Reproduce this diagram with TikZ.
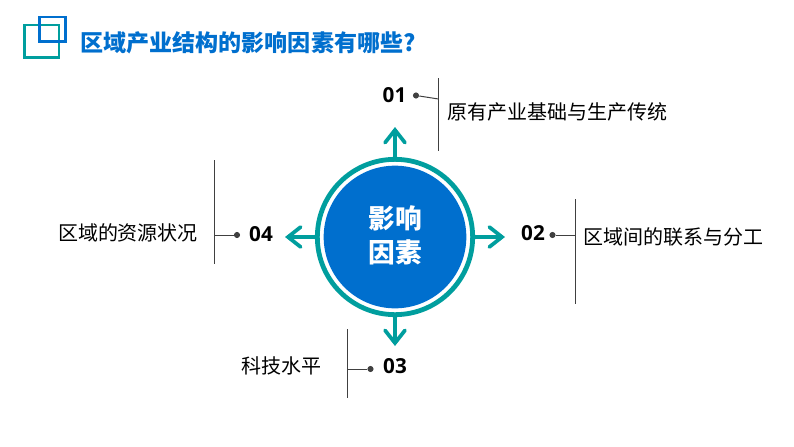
\documentclass[tikz,border=0pt]{standalone}
\usepackage{fontspec}
\usepackage{xcolor}
\usepackage{tikz}
\usetikzlibrary{arrows.meta}
\setmainfont{Noto Sans CJK SC}
\newfontfamily\numfont{Open Sans}
\definecolor{hubteal}{HTML}{009E9E}
\definecolor{hubblue}{HTML}{006FCE}
\definecolor{barline}{HTML}{404040}
\tikzset{
  spoke/.style={draw=hubteal, line width=2.8pt, -{Straight Barb[length=9.5pt,width=15pt,line width=2.8pt,line cap=round,line join=miter]}},
  barstyle/.style={draw=barline, line width=0.75pt},
  dotnode/.style={circle, fill=barline, inner sep=0pt, minimum size=4.6pt},
  numnode/.style={font=\numfont\bfseries\fontsize{15.5}{18}\selectfont, text=black, inner sep=0pt},
  labelnode/.style={font=\fontsize{15}{18}\selectfont, text=black, inner sep=0pt}
}
\begin{document}
\begin{tikzpicture}[x=0.75pt,y=-0.75pt]
\useasboundingbox (0,0) rectangle (794,447);
% title
\draw[hubteal, line width=1.9pt] (24.5,25) rectangle (59,57.5);
\draw[hubblue, line width=1.9pt] (39.5,17) rectangle (65.5,41.5);
\node[font=\bfseries\fontsize{17.3}{20}\selectfont, text=hubblue, inner sep=0pt] (title) at (248,43) {区域产业结构的影响因素有哪些?};
% centre
\node[circle, fill=hubblue, minimum size=107pt, inner sep=0pt] (hub) at (395,237) {};
\node[circle, draw=hubteal, line width=3.6pt, minimum size=116.5pt, inner sep=0pt] (ring) at (395,237) {};
\node[font=\bfseries\fontsize{20}{25}\selectfont, text=white, align=center, inner sep=0pt] (hubtext) at (395,235.5) {影响\\因素};
% spokes
\coordinate (tipa) at (395,127); \coordinate (tipb) at (505,237);
\coordinate (tipc) at (395,346); \coordinate (tipd) at (285,237);
\draw[spoke] (ring.north) -- (tipa);
\draw[spoke] (ring.east) -- (tipb);
\draw[spoke] (ring.south) -- (tipc);
\draw[spoke] (ring.west) -- (tipd);
% 01
\node[numnode] (numa) at (394.5,95.5) {01};
\node[dotnode] (dota) at (416,95.5) {};
\coordinate (bartopa) at (438.5,78); \coordinate (barbota) at (438.5,151); \coordinate (barmida) at (438.5,99);
\draw[barstyle] (bartopa) -- (barbota); \draw[barstyle] (dota) -- (barmida);
\node[labelnode] (texta) at (557.5,112) {原有产业基础与生产传统};
% 02
\node[numnode] (numb) at (533,233.5) {02};
\node[dotnode] (dotb) at (552.5,235) {};
\coordinate (bartopb) at (575.5,199); \coordinate (barbotb) at (575.5,304); \coordinate (barmidb) at (575.5,235);
\draw[barstyle] (bartopb) -- (barbotb); \draw[barstyle] (dotb) -- (barmidb);
\node[labelnode] (textb) at (673,237) {区域间的联系与分工};
% 03
\node[numnode] (numc) at (395,366) {03};
\node[dotnode] (dotc) at (370.5,369) {};
\coordinate (bartopc) at (347.5,329); \coordinate (barbotc) at (347.5,398); \coordinate (barmidc) at (347.5,369);
\draw[barstyle] (bartopc) -- (barbotc); \draw[barstyle] (dotc) -- (barmidc);
\node[labelnode] (textc) at (281.5,366) {科技水平};
% 04
\node[numnode] (numd) at (261,234) {04};
\node[dotnode] (dotd) at (237,235) {};
\coordinate (bartopd) at (214.5,160); \coordinate (barbotd) at (214.5,264); \coordinate (barmidd) at (214.5,235);
\draw[barstyle] (bartopd) -- (barbotd); \draw[barstyle] (dotd) -- (barmidd);
\node[labelnode] (textd) at (128,233) {区域的资源状况};
\end{tikzpicture}
\end{document}
